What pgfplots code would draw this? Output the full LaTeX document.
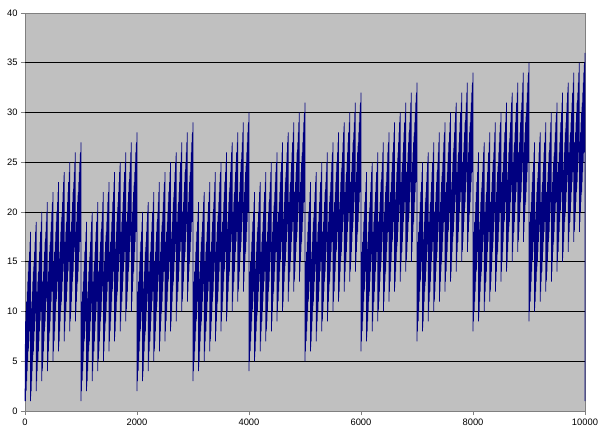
\documentclass[border=0pt]{standalone}
\usepackage{fontspec}
\setmainfont{Liberation Sans}
\usepackage{pgfplots}
\pgfplotsset{compat=1.18}
\definecolor{plotgray}{RGB}{192,192,192}
\definecolor{navyline}{RGB}{0,0,128}
\definecolor{axisgray}{RGB}{128,128,128}
\begin{document}
\begin{tikzpicture}
\useasboundingbox (-25bp,-26bp) rectangle (575bp,411bp);
\begin{axis}[
    at={(0,0)}, anchor=south west,
    scale only axis, width=560bp, height=398bp,
    xmin=0, xmax=10000,
    ymin=0, ymax=40,
    xtick={0,2000,4000,6000,8000,10000},
    ytick={0,5,10,15,20,25,30,35,40},
    scaled x ticks=false,
    /pgf/number format/1000 sep={},
    /pgf/number format/assume math mode=true,
    ticklabel style={font=\fontsize{9.4}{11}\selectfont},
    axis background/.style={fill=plotgray},
    axis line style={axisgray, line width=0.75bp},
    tick align=outside, major tick length=4bp,
    tick style={axisgray, line width=0.75bp},
    xtick pos=bottom, ytick pos=left,
    extra y ticks={5,10,15,20,25,30,35},
    extra y tick labels={},
    extra y tick style={grid=major, major tick length=0pt},
    grid style={black, line width=0.75bp},
    clip=false,
]
% digit sum of n, n = 1..10000 (local min/max of every run of ten)
\addplot[color=navyline, line width=0.75bp, line join=bevel] coordinates {
(1,1)(9,9)(10,1)(19,10)(20,2)(29,11)(30,3)(39,12)(40,4)(49,13)(50,5)(59,14)(60,6)(69,15)(70,7)(79,16)(80,8)(89,17)(90,9)(99,18)
(100,1)(109,10)(110,2)(119,11)(120,3)(129,12)(130,4)(139,13)(140,5)(149,14)(150,6)(159,15)(160,7)(169,16)(170,8)(179,17)(180,9)(189,18)(190,10)(199,19)
(200,2)(209,11)(210,3)(219,12)(220,4)(229,13)(230,5)(239,14)(240,6)(249,15)(250,7)(259,16)(260,8)(269,17)(270,9)(279,18)(280,10)(289,19)(290,11)(299,20)
(300,3)(309,12)(310,4)(319,13)(320,5)(329,14)(330,6)(339,15)(340,7)(349,16)(350,8)(359,17)(360,9)(369,18)(370,10)(379,19)(380,11)(389,20)(390,12)(399,21)
(400,4)(409,13)(410,5)(419,14)(420,6)(429,15)(430,7)(439,16)(440,8)(449,17)(450,9)(459,18)(460,10)(469,19)(470,11)(479,20)(480,12)(489,21)(490,13)(499,22)
(500,5)(509,14)(510,6)(519,15)(520,7)(529,16)(530,8)(539,17)(540,9)(549,18)(550,10)(559,19)(560,11)(569,20)(570,12)(579,21)(580,13)(589,22)(590,14)(599,23)
(600,6)(609,15)(610,7)(619,16)(620,8)(629,17)(630,9)(639,18)(640,10)(649,19)(650,11)(659,20)(660,12)(669,21)(670,13)(679,22)(680,14)(689,23)(690,15)(699,24)
(700,7)(709,16)(710,8)(719,17)(720,9)(729,18)(730,10)(739,19)(740,11)(749,20)(750,12)(759,21)(760,13)(769,22)(770,14)(779,23)(780,15)(789,24)(790,16)(799,25)
(800,8)(809,17)(810,9)(819,18)(820,10)(829,19)(830,11)(839,20)(840,12)(849,21)(850,13)(859,22)(860,14)(869,23)(870,15)(879,24)(880,16)(889,25)(890,17)(899,26)
(900,9)(909,18)(910,10)(919,19)(920,11)(929,20)(930,12)(939,21)(940,13)(949,22)(950,14)(959,23)(960,15)(969,24)(970,16)(979,25)(980,17)(989,26)(990,18)(999,27)
(1000,1)(1009,10)(1010,2)(1019,11)(1020,3)(1029,12)(1030,4)(1039,13)(1040,5)(1049,14)(1050,6)(1059,15)(1060,7)(1069,16)(1070,8)(1079,17)(1080,9)(1089,18)(1090,10)(1099,19)
(1100,2)(1109,11)(1110,3)(1119,12)(1120,4)(1129,13)(1130,5)(1139,14)(1140,6)(1149,15)(1150,7)(1159,16)(1160,8)(1169,17)(1170,9)(1179,18)(1180,10)(1189,19)(1190,11)(1199,20)
(1200,3)(1209,12)(1210,4)(1219,13)(1220,5)(1229,14)(1230,6)(1239,15)(1240,7)(1249,16)(1250,8)(1259,17)(1260,9)(1269,18)(1270,10)(1279,19)(1280,11)(1289,20)(1290,12)(1299,21)
(1300,4)(1309,13)(1310,5)(1319,14)(1320,6)(1329,15)(1330,7)(1339,16)(1340,8)(1349,17)(1350,9)(1359,18)(1360,10)(1369,19)(1370,11)(1379,20)(1380,12)(1389,21)(1390,13)(1399,22)
(1400,5)(1409,14)(1410,6)(1419,15)(1420,7)(1429,16)(1430,8)(1439,17)(1440,9)(1449,18)(1450,10)(1459,19)(1460,11)(1469,20)(1470,12)(1479,21)(1480,13)(1489,22)(1490,14)(1499,23)
(1500,6)(1509,15)(1510,7)(1519,16)(1520,8)(1529,17)(1530,9)(1539,18)(1540,10)(1549,19)(1550,11)(1559,20)(1560,12)(1569,21)(1570,13)(1579,22)(1580,14)(1589,23)(1590,15)(1599,24)
(1600,7)(1609,16)(1610,8)(1619,17)(1620,9)(1629,18)(1630,10)(1639,19)(1640,11)(1649,20)(1650,12)(1659,21)(1660,13)(1669,22)(1670,14)(1679,23)(1680,15)(1689,24)(1690,16)(1699,25)
(1700,8)(1709,17)(1710,9)(1719,18)(1720,10)(1729,19)(1730,11)(1739,20)(1740,12)(1749,21)(1750,13)(1759,22)(1760,14)(1769,23)(1770,15)(1779,24)(1780,16)(1789,25)(1790,17)(1799,26)
(1800,9)(1809,18)(1810,10)(1819,19)(1820,11)(1829,20)(1830,12)(1839,21)(1840,13)(1849,22)(1850,14)(1859,23)(1860,15)(1869,24)(1870,16)(1879,25)(1880,17)(1889,26)(1890,18)(1899,27)
(1900,10)(1909,19)(1910,11)(1919,20)(1920,12)(1929,21)(1930,13)(1939,22)(1940,14)(1949,23)(1950,15)(1959,24)(1960,16)(1969,25)(1970,17)(1979,26)(1980,18)(1989,27)(1990,19)(1999,28)
(2000,2)(2009,11)(2010,3)(2019,12)(2020,4)(2029,13)(2030,5)(2039,14)(2040,6)(2049,15)(2050,7)(2059,16)(2060,8)(2069,17)(2070,9)(2079,18)(2080,10)(2089,19)(2090,11)(2099,20)
(2100,3)(2109,12)(2110,4)(2119,13)(2120,5)(2129,14)(2130,6)(2139,15)(2140,7)(2149,16)(2150,8)(2159,17)(2160,9)(2169,18)(2170,10)(2179,19)(2180,11)(2189,20)(2190,12)(2199,21)
(2200,4)(2209,13)(2210,5)(2219,14)(2220,6)(2229,15)(2230,7)(2239,16)(2240,8)(2249,17)(2250,9)(2259,18)(2260,10)(2269,19)(2270,11)(2279,20)(2280,12)(2289,21)(2290,13)(2299,22)
(2300,5)(2309,14)(2310,6)(2319,15)(2320,7)(2329,16)(2330,8)(2339,17)(2340,9)(2349,18)(2350,10)(2359,19)(2360,11)(2369,20)(2370,12)(2379,21)(2380,13)(2389,22)(2390,14)(2399,23)
(2400,6)(2409,15)(2410,7)(2419,16)(2420,8)(2429,17)(2430,9)(2439,18)(2440,10)(2449,19)(2450,11)(2459,20)(2460,12)(2469,21)(2470,13)(2479,22)(2480,14)(2489,23)(2490,15)(2499,24)
(2500,7)(2509,16)(2510,8)(2519,17)(2520,9)(2529,18)(2530,10)(2539,19)(2540,11)(2549,20)(2550,12)(2559,21)(2560,13)(2569,22)(2570,14)(2579,23)(2580,15)(2589,24)(2590,16)(2599,25)
(2600,8)(2609,17)(2610,9)(2619,18)(2620,10)(2629,19)(2630,11)(2639,20)(2640,12)(2649,21)(2650,13)(2659,22)(2660,14)(2669,23)(2670,15)(2679,24)(2680,16)(2689,25)(2690,17)(2699,26)
(2700,9)(2709,18)(2710,10)(2719,19)(2720,11)(2729,20)(2730,12)(2739,21)(2740,13)(2749,22)(2750,14)(2759,23)(2760,15)(2769,24)(2770,16)(2779,25)(2780,17)(2789,26)(2790,18)(2799,27)
(2800,10)(2809,19)(2810,11)(2819,20)(2820,12)(2829,21)(2830,13)(2839,22)(2840,14)(2849,23)(2850,15)(2859,24)(2860,16)(2869,25)(2870,17)(2879,26)(2880,18)(2889,27)(2890,19)(2899,28)
(2900,11)(2909,20)(2910,12)(2919,21)(2920,13)(2929,22)(2930,14)(2939,23)(2940,15)(2949,24)(2950,16)(2959,25)(2960,17)(2969,26)(2970,18)(2979,27)(2980,19)(2989,28)(2990,20)(2999,29)
(3000,3)(3009,12)(3010,4)(3019,13)(3020,5)(3029,14)(3030,6)(3039,15)(3040,7)(3049,16)(3050,8)(3059,17)(3060,9)(3069,18)(3070,10)(3079,19)(3080,11)(3089,20)(3090,12)(3099,21)
(3100,4)(3109,13)(3110,5)(3119,14)(3120,6)(3129,15)(3130,7)(3139,16)(3140,8)(3149,17)(3150,9)(3159,18)(3160,10)(3169,19)(3170,11)(3179,20)(3180,12)(3189,21)(3190,13)(3199,22)
(3200,5)(3209,14)(3210,6)(3219,15)(3220,7)(3229,16)(3230,8)(3239,17)(3240,9)(3249,18)(3250,10)(3259,19)(3260,11)(3269,20)(3270,12)(3279,21)(3280,13)(3289,22)(3290,14)(3299,23)
(3300,6)(3309,15)(3310,7)(3319,16)(3320,8)(3329,17)(3330,9)(3339,18)(3340,10)(3349,19)(3350,11)(3359,20)(3360,12)(3369,21)(3370,13)(3379,22)(3380,14)(3389,23)(3390,15)(3399,24)
(3400,7)(3409,16)(3410,8)(3419,17)(3420,9)(3429,18)(3430,10)(3439,19)(3440,11)(3449,20)(3450,12)(3459,21)(3460,13)(3469,22)(3470,14)(3479,23)(3480,15)(3489,24)(3490,16)(3499,25)
(3500,8)(3509,17)(3510,9)(3519,18)(3520,10)(3529,19)(3530,11)(3539,20)(3540,12)(3549,21)(3550,13)(3559,22)(3560,14)(3569,23)(3570,15)(3579,24)(3580,16)(3589,25)(3590,17)(3599,26)
(3600,9)(3609,18)(3610,10)(3619,19)(3620,11)(3629,20)(3630,12)(3639,21)(3640,13)(3649,22)(3650,14)(3659,23)(3660,15)(3669,24)(3670,16)(3679,25)(3680,17)(3689,26)(3690,18)(3699,27)
(3700,10)(3709,19)(3710,11)(3719,20)(3720,12)(3729,21)(3730,13)(3739,22)(3740,14)(3749,23)(3750,15)(3759,24)(3760,16)(3769,25)(3770,17)(3779,26)(3780,18)(3789,27)(3790,19)(3799,28)
(3800,11)(3809,20)(3810,12)(3819,21)(3820,13)(3829,22)(3830,14)(3839,23)(3840,15)(3849,24)(3850,16)(3859,25)(3860,17)(3869,26)(3870,18)(3879,27)(3880,19)(3889,28)(3890,20)(3899,29)
(3900,12)(3909,21)(3910,13)(3919,22)(3920,14)(3929,23)(3930,15)(3939,24)(3940,16)(3949,25)(3950,17)(3959,26)(3960,18)(3969,27)(3970,19)(3979,28)(3980,20)(3989,29)(3990,21)(3999,30)
(4000,4)(4009,13)(4010,5)(4019,14)(4020,6)(4029,15)(4030,7)(4039,16)(4040,8)(4049,17)(4050,9)(4059,18)(4060,10)(4069,19)(4070,11)(4079,20)(4080,12)(4089,21)(4090,13)(4099,22)
(4100,5)(4109,14)(4110,6)(4119,15)(4120,7)(4129,16)(4130,8)(4139,17)(4140,9)(4149,18)(4150,10)(4159,19)(4160,11)(4169,20)(4170,12)(4179,21)(4180,13)(4189,22)(4190,14)(4199,23)
(4200,6)(4209,15)(4210,7)(4219,16)(4220,8)(4229,17)(4230,9)(4239,18)(4240,10)(4249,19)(4250,11)(4259,20)(4260,12)(4269,21)(4270,13)(4279,22)(4280,14)(4289,23)(4290,15)(4299,24)
(4300,7)(4309,16)(4310,8)(4319,17)(4320,9)(4329,18)(4330,10)(4339,19)(4340,11)(4349,20)(4350,12)(4359,21)(4360,13)(4369,22)(4370,14)(4379,23)(4380,15)(4389,24)(4390,16)(4399,25)
(4400,8)(4409,17)(4410,9)(4419,18)(4420,10)(4429,19)(4430,11)(4439,20)(4440,12)(4449,21)(4450,13)(4459,22)(4460,14)(4469,23)(4470,15)(4479,24)(4480,16)(4489,25)(4490,17)(4499,26)
(4500,9)(4509,18)(4510,10)(4519,19)(4520,11)(4529,20)(4530,12)(4539,21)(4540,13)(4549,22)(4550,14)(4559,23)(4560,15)(4569,24)(4570,16)(4579,25)(4580,17)(4589,26)(4590,18)(4599,27)
(4600,10)(4609,19)(4610,11)(4619,20)(4620,12)(4629,21)(4630,13)(4639,22)(4640,14)(4649,23)(4650,15)(4659,24)(4660,16)(4669,25)(4670,17)(4679,26)(4680,18)(4689,27)(4690,19)(4699,28)
(4700,11)(4709,20)(4710,12)(4719,21)(4720,13)(4729,22)(4730,14)(4739,23)(4740,15)(4749,24)(4750,16)(4759,25)(4760,17)(4769,26)(4770,18)(4779,27)(4780,19)(4789,28)(4790,20)(4799,29)
(4800,12)(4809,21)(4810,13)(4819,22)(4820,14)(4829,23)(4830,15)(4839,24)(4840,16)(4849,25)(4850,17)(4859,26)(4860,18)(4869,27)(4870,19)(4879,28)(4880,20)(4889,29)(4890,21)(4899,30)
(4900,13)(4909,22)(4910,14)(4919,23)(4920,15)(4929,24)(4930,16)(4939,25)(4940,17)(4949,26)(4950,18)(4959,27)(4960,19)(4969,28)(4970,20)(4979,29)(4980,21)(4989,30)(4990,22)(4999,31)
(5000,5)(5009,14)(5010,6)(5019,15)(5020,7)(5029,16)(5030,8)(5039,17)(5040,9)(5049,18)(5050,10)(5059,19)(5060,11)(5069,20)(5070,12)(5079,21)(5080,13)(5089,22)(5090,14)(5099,23)
(5100,6)(5109,15)(5110,7)(5119,16)(5120,8)(5129,17)(5130,9)(5139,18)(5140,10)(5149,19)(5150,11)(5159,20)(5160,12)(5169,21)(5170,13)(5179,22)(5180,14)(5189,23)(5190,15)(5199,24)
(5200,7)(5209,16)(5210,8)(5219,17)(5220,9)(5229,18)(5230,10)(5239,19)(5240,11)(5249,20)(5250,12)(5259,21)(5260,13)(5269,22)(5270,14)(5279,23)(5280,15)(5289,24)(5290,16)(5299,25)
(5300,8)(5309,17)(5310,9)(5319,18)(5320,10)(5329,19)(5330,11)(5339,20)(5340,12)(5349,21)(5350,13)(5359,22)(5360,14)(5369,23)(5370,15)(5379,24)(5380,16)(5389,25)(5390,17)(5399,26)
(5400,9)(5409,18)(5410,10)(5419,19)(5420,11)(5429,20)(5430,12)(5439,21)(5440,13)(5449,22)(5450,14)(5459,23)(5460,15)(5469,24)(5470,16)(5479,25)(5480,17)(5489,26)(5490,18)(5499,27)
(5500,10)(5509,19)(5510,11)(5519,20)(5520,12)(5529,21)(5530,13)(5539,22)(5540,14)(5549,23)(5550,15)(5559,24)(5560,16)(5569,25)(5570,17)(5579,26)(5580,18)(5589,27)(5590,19)(5599,28)
(5600,11)(5609,20)(5610,12)(5619,21)(5620,13)(5629,22)(5630,14)(5639,23)(5640,15)(5649,24)(5650,16)(5659,25)(5660,17)(5669,26)(5670,18)(5679,27)(5680,19)(5689,28)(5690,20)(5699,29)
(5700,12)(5709,21)(5710,13)(5719,22)(5720,14)(5729,23)(5730,15)(5739,24)(5740,16)(5749,25)(5750,17)(5759,26)(5760,18)(5769,27)(5770,19)(5779,28)(5780,20)(5789,29)(5790,21)(5799,30)
(5800,13)(5809,22)(5810,14)(5819,23)(5820,15)(5829,24)(5830,16)(5839,25)(5840,17)(5849,26)(5850,18)(5859,27)(5860,19)(5869,28)(5870,20)(5879,29)(5880,21)(5889,30)(5890,22)(5899,31)
(5900,14)(5909,23)(5910,15)(5919,24)(5920,16)(5929,25)(5930,17)(5939,26)(5940,18)(5949,27)(5950,19)(5959,28)(5960,20)(5969,29)(5970,21)(5979,30)(5980,22)(5989,31)(5990,23)(5999,32)
(6000,6)(6009,15)(6010,7)(6019,16)(6020,8)(6029,17)(6030,9)(6039,18)(6040,10)(6049,19)(6050,11)(6059,20)(6060,12)(6069,21)(6070,13)(6079,22)(6080,14)(6089,23)(6090,15)(6099,24)
(6100,7)(6109,16)(6110,8)(6119,17)(6120,9)(6129,18)(6130,10)(6139,19)(6140,11)(6149,20)(6150,12)(6159,21)(6160,13)(6169,22)(6170,14)(6179,23)(6180,15)(6189,24)(6190,16)(6199,25)
(6200,8)(6209,17)(6210,9)(6219,18)(6220,10)(6229,19)(6230,11)(6239,20)(6240,12)(6249,21)(6250,13)(6259,22)(6260,14)(6269,23)(6270,15)(6279,24)(6280,16)(6289,25)(6290,17)(6299,26)
(6300,9)(6309,18)(6310,10)(6319,19)(6320,11)(6329,20)(6330,12)(6339,21)(6340,13)(6349,22)(6350,14)(6359,23)(6360,15)(6369,24)(6370,16)(6379,25)(6380,17)(6389,26)(6390,18)(6399,27)
(6400,10)(6409,19)(6410,11)(6419,20)(6420,12)(6429,21)(6430,13)(6439,22)(6440,14)(6449,23)(6450,15)(6459,24)(6460,16)(6469,25)(6470,17)(6479,26)(6480,18)(6489,27)(6490,19)(6499,28)
(6500,11)(6509,20)(6510,12)(6519,21)(6520,13)(6529,22)(6530,14)(6539,23)(6540,15)(6549,24)(6550,16)(6559,25)(6560,17)(6569,26)(6570,18)(6579,27)(6580,19)(6589,28)(6590,20)(6599,29)
(6600,12)(6609,21)(6610,13)(6619,22)(6620,14)(6629,23)(6630,15)(6639,24)(6640,16)(6649,25)(6650,17)(6659,26)(6660,18)(6669,27)(6670,19)(6679,28)(6680,20)(6689,29)(6690,21)(6699,30)
(6700,13)(6709,22)(6710,14)(6719,23)(6720,15)(6729,24)(6730,16)(6739,25)(6740,17)(6749,26)(6750,18)(6759,27)(6760,19)(6769,28)(6770,20)(6779,29)(6780,21)(6789,30)(6790,22)(6799,31)
(6800,14)(6809,23)(6810,15)(6819,24)(6820,16)(6829,25)(6830,17)(6839,26)(6840,18)(6849,27)(6850,19)(6859,28)(6860,20)(6869,29)(6870,21)(6879,30)(6880,22)(6889,31)(6890,23)(6899,32)
(6900,15)(6909,24)(6910,16)(6919,25)(6920,17)(6929,26)(6930,18)(6939,27)(6940,19)(6949,28)(6950,20)(6959,29)(6960,21)(6969,30)(6970,22)(6979,31)(6980,23)(6989,32)(6990,24)(6999,33)
(7000,7)(7009,16)(7010,8)(7019,17)(7020,9)(7029,18)(7030,10)(7039,19)(7040,11)(7049,20)(7050,12)(7059,21)(7060,13)(7069,22)(7070,14)(7079,23)(7080,15)(7089,24)(7090,16)(7099,25)
(7100,8)(7109,17)(7110,9)(7119,18)(7120,10)(7129,19)(7130,11)(7139,20)(7140,12)(7149,21)(7150,13)(7159,22)(7160,14)(7169,23)(7170,15)(7179,24)(7180,16)(7189,25)(7190,17)(7199,26)
(7200,9)(7209,18)(7210,10)(7219,19)(7220,11)(7229,20)(7230,12)(7239,21)(7240,13)(7249,22)(7250,14)(7259,23)(7260,15)(7269,24)(7270,16)(7279,25)(7280,17)(7289,26)(7290,18)(7299,27)
(7300,10)(7309,19)(7310,11)(7319,20)(7320,12)(7329,21)(7330,13)(7339,22)(7340,14)(7349,23)(7350,15)(7359,24)(7360,16)(7369,25)(7370,17)(7379,26)(7380,18)(7389,27)(7390,19)(7399,28)
(7400,11)(7409,20)(7410,12)(7419,21)(7420,13)(7429,22)(7430,14)(7439,23)(7440,15)(7449,24)(7450,16)(7459,25)(7460,17)(7469,26)(7470,18)(7479,27)(7480,19)(7489,28)(7490,20)(7499,29)
(7500,12)(7509,21)(7510,13)(7519,22)(7520,14)(7529,23)(7530,15)(7539,24)(7540,16)(7549,25)(7550,17)(7559,26)(7560,18)(7569,27)(7570,19)(7579,28)(7580,20)(7589,29)(7590,21)(7599,30)
(7600,13)(7609,22)(7610,14)(7619,23)(7620,15)(7629,24)(7630,16)(7639,25)(7640,17)(7649,26)(7650,18)(7659,27)(7660,19)(7669,28)(7670,20)(7679,29)(7680,21)(7689,30)(7690,22)(7699,31)
(7700,14)(7709,23)(7710,15)(7719,24)(7720,16)(7729,25)(7730,17)(7739,26)(7740,18)(7749,27)(7750,19)(7759,28)(7760,20)(7769,29)(7770,21)(7779,30)(7780,22)(7789,31)(7790,23)(7799,32)
(7800,15)(7809,24)(7810,16)(7819,25)(7820,17)(7829,26)(7830,18)(7839,27)(7840,19)(7849,28)(7850,20)(7859,29)(7860,21)(7869,30)(7870,22)(7879,31)(7880,23)(7889,32)(7890,24)(7899,33)
(7900,16)(7909,25)(7910,17)(7919,26)(7920,18)(7929,27)(7930,19)(7939,28)(7940,20)(7949,29)(7950,21)(7959,30)(7960,22)(7969,31)(7970,23)(7979,32)(7980,24)(7989,33)(7990,25)(7999,34)
(8000,8)(8009,17)(8010,9)(8019,18)(8020,10)(8029,19)(8030,11)(8039,20)(8040,12)(8049,21)(8050,13)(8059,22)(8060,14)(8069,23)(8070,15)(8079,24)(8080,16)(8089,25)(8090,17)(8099,26)
(8100,9)(8109,18)(8110,10)(8119,19)(8120,11)(8129,20)(8130,12)(8139,21)(8140,13)(8149,22)(8150,14)(8159,23)(8160,15)(8169,24)(8170,16)(8179,25)(8180,17)(8189,26)(8190,18)(8199,27)
(8200,10)(8209,19)(8210,11)(8219,20)(8220,12)(8229,21)(8230,13)(8239,22)(8240,14)(8249,23)(8250,15)(8259,24)(8260,16)(8269,25)(8270,17)(8279,26)(8280,18)(8289,27)(8290,19)(8299,28)
(8300,11)(8309,20)(8310,12)(8319,21)(8320,13)(8329,22)(8330,14)(8339,23)(8340,15)(8349,24)(8350,16)(8359,25)(8360,17)(8369,26)(8370,18)(8379,27)(8380,19)(8389,28)(8390,20)(8399,29)
(8400,12)(8409,21)(8410,13)(8419,22)(8420,14)(8429,23)(8430,15)(8439,24)(8440,16)(8449,25)(8450,17)(8459,26)(8460,18)(8469,27)(8470,19)(8479,28)(8480,20)(8489,29)(8490,21)(8499,30)
(8500,13)(8509,22)(8510,14)(8519,23)(8520,15)(8529,24)(8530,16)(8539,25)(8540,17)(8549,26)(8550,18)(8559,27)(8560,19)(8569,28)(8570,20)(8579,29)(8580,21)(8589,30)(8590,22)(8599,31)
(8600,14)(8609,23)(8610,15)(8619,24)(8620,16)(8629,25)(8630,17)(8639,26)(8640,18)(8649,27)(8650,19)(8659,28)(8660,20)(8669,29)(8670,21)(8679,30)(8680,22)(8689,31)(8690,23)(8699,32)
(8700,15)(8709,24)(8710,16)(8719,25)(8720,17)(8729,26)(8730,18)(8739,27)(8740,19)(8749,28)(8750,20)(8759,29)(8760,21)(8769,30)(8770,22)(8779,31)(8780,23)(8789,32)(8790,24)(8799,33)
(8800,16)(8809,25)(8810,17)(8819,26)(8820,18)(8829,27)(8830,19)(8839,28)(8840,20)(8849,29)(8850,21)(8859,30)(8860,22)(8869,31)(8870,23)(8879,32)(8880,24)(8889,33)(8890,25)(8899,34)
(8900,17)(8909,26)(8910,18)(8919,27)(8920,19)(8929,28)(8930,20)(8939,29)(8940,21)(8949,30)(8950,22)(8959,31)(8960,23)(8969,32)(8970,24)(8979,33)(8980,25)(8989,34)(8990,26)(8999,35)
(9000,9)(9009,18)(9010,10)(9019,19)(9020,11)(9029,20)(9030,12)(9039,21)(9040,13)(9049,22)(9050,14)(9059,23)(9060,15)(9069,24)(9070,16)(9079,25)(9080,17)(9089,26)(9090,18)(9099,27)
(9100,10)(9109,19)(9110,11)(9119,20)(9120,12)(9129,21)(9130,13)(9139,22)(9140,14)(9149,23)(9150,15)(9159,24)(9160,16)(9169,25)(9170,17)(9179,26)(9180,18)(9189,27)(9190,19)(9199,28)
(9200,11)(9209,20)(9210,12)(9219,21)(9220,13)(9229,22)(9230,14)(9239,23)(9240,15)(9249,24)(9250,16)(9259,25)(9260,17)(9269,26)(9270,18)(9279,27)(9280,19)(9289,28)(9290,20)(9299,29)
(9300,12)(9309,21)(9310,13)(9319,22)(9320,14)(9329,23)(9330,15)(9339,24)(9340,16)(9349,25)(9350,17)(9359,26)(9360,18)(9369,27)(9370,19)(9379,28)(9380,20)(9389,29)(9390,21)(9399,30)
(9400,13)(9409,22)(9410,14)(9419,23)(9420,15)(9429,24)(9430,16)(9439,25)(9440,17)(9449,26)(9450,18)(9459,27)(9460,19)(9469,28)(9470,20)(9479,29)(9480,21)(9489,30)(9490,22)(9499,31)
(9500,14)(9509,23)(9510,15)(9519,24)(9520,16)(9529,25)(9530,17)(9539,26)(9540,18)(9549,27)(9550,19)(9559,28)(9560,20)(9569,29)(9570,21)(9579,30)(9580,22)(9589,31)(9590,23)(9599,32)
(9600,15)(9609,24)(9610,16)(9619,25)(9620,17)(9629,26)(9630,18)(9639,27)(9640,19)(9649,28)(9650,20)(9659,29)(9660,21)(9669,30)(9670,22)(9679,31)(9680,23)(9689,32)(9690,24)(9699,33)
(9700,16)(9709,25)(9710,17)(9719,26)(9720,18)(9729,27)(9730,19)(9739,28)(9740,20)(9749,29)(9750,21)(9759,30)(9760,22)(9769,31)(9770,23)(9779,32)(9780,24)(9789,33)(9790,25)(9799,34)
(9800,17)(9809,26)(9810,18)(9819,27)(9820,19)(9829,28)(9830,20)(9839,29)(9840,21)(9849,30)(9850,22)(9859,31)(9860,23)(9869,32)(9870,24)(9879,33)(9880,25)(9889,34)(9890,26)(9899,35)
(9900,18)(9909,27)(9910,19)(9919,28)(9920,20)(9929,29)(9930,21)(9939,30)(9940,22)(9949,31)(9950,23)(9959,32)(9960,24)(9969,33)(9970,25)(9979,34)(9980,26)(9989,35)(9990,27)(9999,36)
(10000,1)
};
\end{axis}
\end{tikzpicture}
\end{document}
